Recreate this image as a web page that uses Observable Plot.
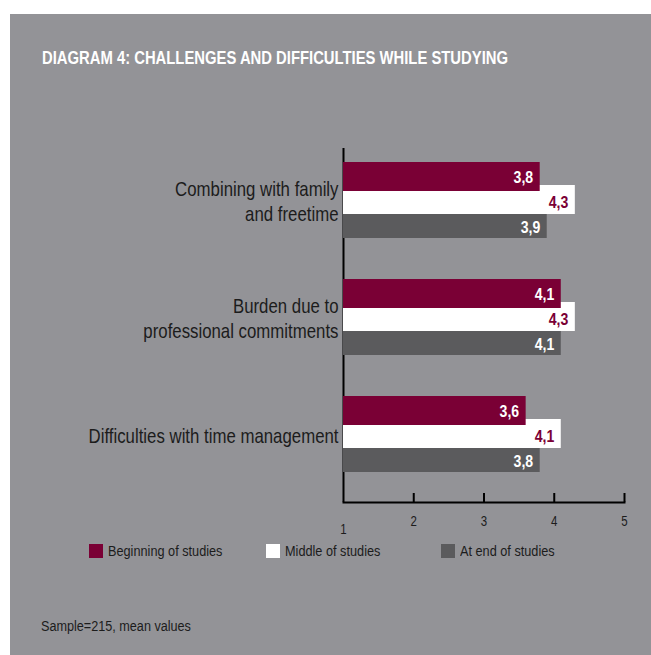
<!DOCTYPE html>
<html><head><meta charset="utf-8">
<script src="https://cdn.jsdelivr.net/npm/d3@7"></script>
<script src="https://cdn.jsdelivr.net/npm/@observablehq/plot@0.6"></script>
<style>
body{margin:0;background:#fff;}
#wrap{position:relative;width:651px;height:655px;overflow:hidden;font-family:"Liberation Sans",Arial,sans-serif;color:#1c1c1c;}
#panel{position:absolute;left:10px;top:14px;width:641px;height:641px;background:#939397;}
#title{position:absolute;left:42px;top:48px;color:#fff;font-weight:bold;font-size:19px;line-height:19px;white-space:nowrap;}
#title span{display:inline-block;transform:scaleX(0.78);transform-origin:0 50%;}
#chart{position:absolute;left:0;top:130px;}
.item{position:absolute;top:544px;height:14px;display:flex;align-items:center;font-size:15.5px;line-height:14px;white-space:nowrap;}
.item span{display:inline-block;transform:scaleX(0.82);transform-origin:0 50%;}
.sw{width:14px;height:14px;margin-right:5px;flex:none;}
#caption{position:absolute;left:41px;top:618px;font-size:15.5px;line-height:15.5px;white-space:nowrap;}
#caption span{display:inline-block;transform:scaleX(0.815);transform-origin:0 50%;}
</style></head>
<body>
<div id="wrap">
  <div id="panel"></div>
  <div id="title"><span>DIAGRAM 4: CHALLENGES AND DIFFICULTIES WHILE STUDYING</span></div>
  <div id="chart"></div>
  <div id="legend"></div>
  <div id="caption"><span>Sample=215, mean values</span></div>
</div>
<script>
const categories = ["Combining with family\nand freetime", "Burden due to\nprofessional commitments", "Difficulties with time management"];
const series = ["Beginning of studies", "Middle of studies", "At end of studies"];
const beginning = [3.8, 4.1, 3.6];
const middle = [4.3, 4.3, 4.1];
const atEnd = [3.9, 4.1, 3.8];
const xTicks = [1, 2, 3, 4, 5];
const colors = ["#7a0035", "#ffffff", "#5b5b5d"];
const labelColors = ["#ffffff", "#7a0035", "#ffffff"];
const legendX = [89, 266, 441];

const values = [beginning, middle, atEnd];
const rows = series.map((s, si) => categories.map((c, ci) => ({series: s, category: c, value: values[si][ci]})));
const fmt = v => d3.format(".1f")(v).replace(".", ",");
const base = xTicks[0];

// inset geometry per series (top, bottom) within each category band
const insets = [[0, 47], [23, 24], [47, 0]];
const labelDy = [-23, 2.5, 27.5];

const barMarks = [];
for (const si of [2, 1, 0]) {
  barMarks.push(Plot.barX(rows[si], {x1: () => base, x2: "value", y: "category", fill: colors[si], insetTop: insets[si][0], insetBottom: insets[si][1]}));
}
const textMarks = [0, 1, 2].map(si => Plot.text(rows[si], {x: "value", y: "category", text: d => fmt(d.value), fill: labelColors[si], textAnchor: "end", dx: -7, dy: labelDy[si], fontSize: 16, fontWeight: "bold"}));

const plot = Plot.plot({
  width: 651,
  height: 420,
  marginLeft: 343,
  marginRight: 27,
  marginTop: 18,
  marginBottom: 48,
  style: {background: "transparent", fontFamily: '"Liberation Sans",Arial,sans-serif', color: "#1c1c1c", overflow: "visible"},
  x: {domain: [xTicks[0], xTicks[xTicks.length - 1]], axis: null},
  y: {type: "band", domain: categories, paddingInner: 0.353, paddingOuter: 0.183, align: 0.326, axis: null},
  marks: [
    Plot.ruleX([base], {stroke: "#000", strokeWidth: 2}),
    Plot.frame({anchor: "bottom", stroke: "#000", strokeWidth: 2}),
    Plot.axisX(xTicks.slice(1), {tickSize: -9, strokeWidth: 2, stroke: "#000", text: null, label: null}),
    Plot.axisX(xTicks.slice(1), {tickSize: 0, tickPadding: 14, fontSize: 14, fill: "#1c1c1c", label: null}),
    Plot.axisX(xTicks.slice(0, 1), {tickSize: 0, tickPadding: 22, fontSize: 14, fill: "#1c1c1c", label: null}),
    ...barMarks,
    ...textMarks,
    Plot.axisY({tickSize: 0, tickPadding: 5, fontSize: 20.5, lineHeight: 1.22, fill: "#1c1c1c", label: null})
  ]
});

// narrow the text glyphs horizontally around each text's own anchor (condensed look)
plot.querySelectorAll("text").forEach(t => {
  const s = t.getAttribute("font-weight") === "bold" || (t.parentNode && t.parentNode.getAttribute("font-weight") === "bold") ? 0.88 : 0.82;
  const x = +t.getAttribute("x") || 0, y = +t.getAttribute("y") || 0;
  const tr = t.getAttribute("transform") || "";
  t.setAttribute("transform", `${tr} translate(${x},${y}) scale(${s},1) translate(${-x},${-y})`);
});
document.getElementById("chart").appendChild(plot);

const legend = document.getElementById("legend");
series.forEach((s, i) => {
  const it = document.createElement("div");
  it.className = "item";
  it.style.left = legendX[i] + "px";
  const sw = document.createElement("div");
  sw.className = "sw";
  sw.style.background = colors[i];
  const t = document.createElement("span");
  t.textContent = s;
  it.appendChild(sw); it.appendChild(t);
  legend.appendChild(it);
});
</script>
</body></html>
